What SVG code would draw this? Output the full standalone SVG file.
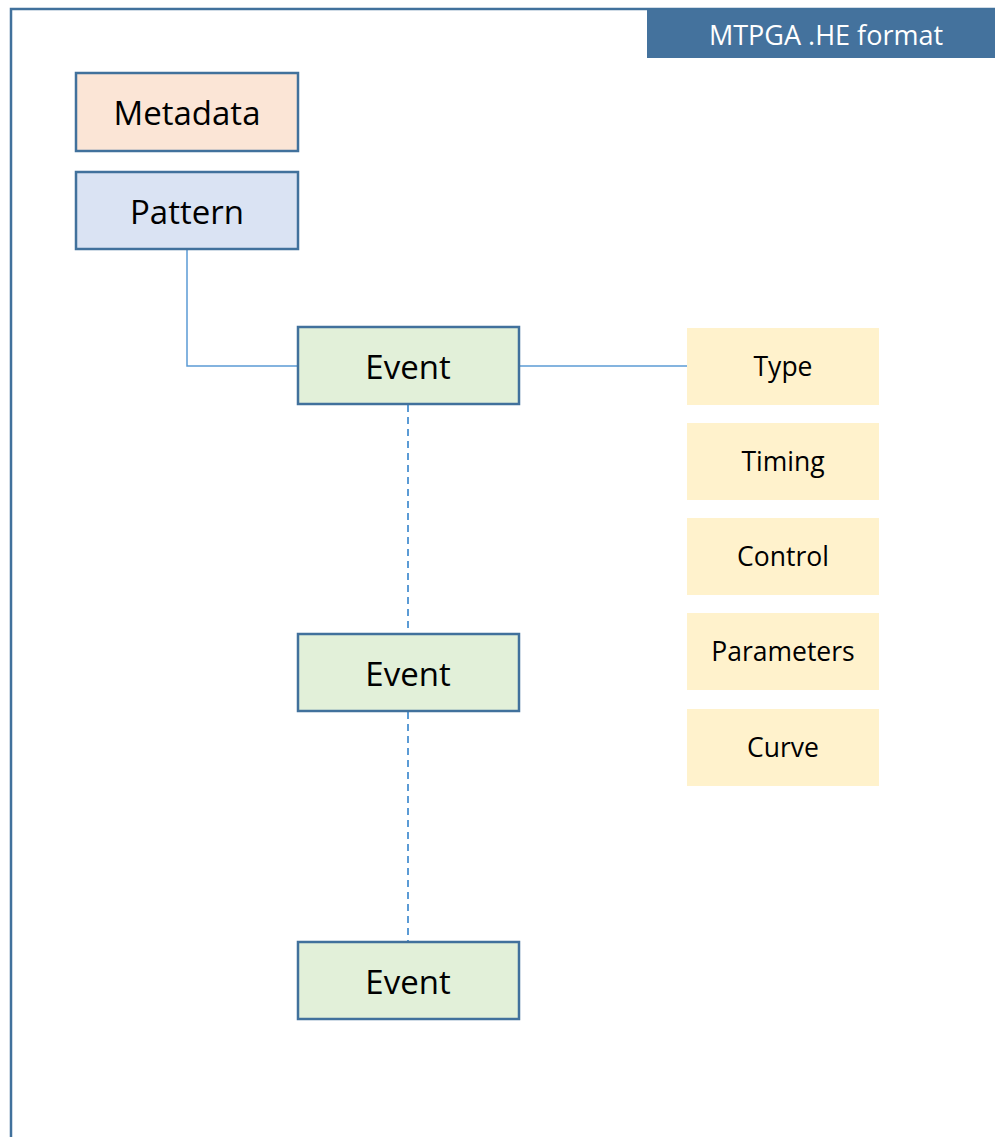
<svg xmlns="http://www.w3.org/2000/svg" width="995" height="1137" viewBox="0 0 995 1137">
<style>
.box{stroke:#41719C;stroke-width:2.5}
.side{fill:#FFF2CC}
.main{font-family:"Open Sans","Liberation Sans",sans-serif;font-size:33px;fill:#000;text-anchor:middle;dominant-baseline:central}
.sl{font-family:"Open Sans","Liberation Sans",sans-serif;font-size:26.5px;fill:#000;text-anchor:middle;dominant-baseline:central}
.conn{stroke:#5B9BD5;stroke-width:1.5;fill:none}
.dash{stroke-width:2;stroke-dasharray:7,5}
</style>
<rect width="995" height="1137" fill="#fff"/>
<g id="frame">
<path d="M11 1140 V9 H1000" fill="none" stroke="#41719C" stroke-width="2.5"/>
</g>
<g id="title">
<rect x="647" y="10" width="350" height="48" fill="#44729D"/>
<text x="826" y="34" font-family="Open Sans, Liberation Sans, sans-serif" font-size="27" fill="#fff" text-anchor="middle" dominant-baseline="central">MTPGA .HE format</text>
</g>
<g id="connectors">
<path class="conn" d="M187 250 V366 H298"/>
<path class="conn" d="M520 366 H687"/>
<path class="conn dash" d="M408 405 V634"/>
<path class="conn dash" d="M408 712 V942"/>
</g>
<g id="metadata">
<rect class="box" x="76" y="73" width="222" height="78" fill="#FBE5D6"/>
<text class="main" x="187" y="112">Metadata</text>
</g>
<g id="pattern">
<rect class="box" x="76" y="172" width="222" height="77" fill="#DAE3F3"/>
<text class="main" x="187" y="211">Pattern</text>
</g>
<g id="event1">
<rect class="box" x="298" y="327" width="221" height="77" fill="#E2F0D9"/>
<text class="main" x="408" y="366">Event</text>
</g>
<g id="event2">
<rect class="box" x="298" y="634" width="221" height="77" fill="#E2F0D9"/>
<text class="main" x="408" y="673">Event</text>
</g>
<g id="event3">
<rect class="box" x="298" y="942" width="221" height="77" fill="#E2F0D9"/>
<text class="main" x="408" y="981">Event</text>
</g>
<g id="type">
<rect class="side" x="687" y="328" width="192" height="77"/>
<text class="sl" x="783" y="366">Type</text>
</g>
<g id="timing">
<rect class="side" x="687" y="423" width="192" height="77"/>
<text class="sl" x="783" y="461">Timing</text>
</g>
<g id="control">
<rect class="side" x="687" y="518" width="192" height="77"/>
<text class="sl" x="783" y="556">Control</text>
</g>
<g id="parameters">
<rect class="side" x="687" y="613" width="192" height="77"/>
<text class="sl" x="783" y="651">Parameters</text>
</g>
<g id="curve">
<rect class="side" x="687" y="709" width="192" height="77"/>
<text class="sl" x="783" y="747">Curve</text>
</g>
</svg>
